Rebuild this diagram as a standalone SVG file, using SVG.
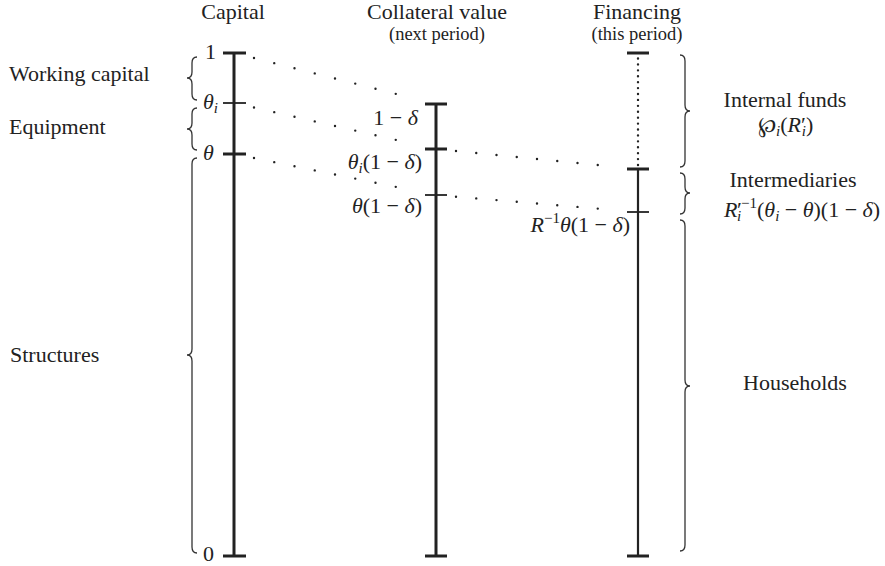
<svg xmlns="http://www.w3.org/2000/svg" width="885" height="566" viewBox="0 0 885 566">
<style>
.t{font-family:'Liberation Serif','Times New Roman',serif;font-size:22px;fill:#222}
.s{font-size:18.5px}
.it{font-style:italic}
.sb{font-size:15px}
.ax{stroke:#222;stroke-width:3;fill:none}
.ax2{stroke:#222;stroke-width:2.2;fill:none}
.tk{stroke:#222;stroke-width:3}
.tn{stroke:#222;stroke-width:1.8}
.dot{stroke:#222;stroke-width:2.4;stroke-linecap:round;stroke-dasharray:0 1;fill:none}
.br{fill:none;stroke:#333;stroke-width:1.3}
</style>
<rect width="885" height="566" fill="#fff"/>

<g id="capital">
<text class="t" x="233" y="19" text-anchor="middle">Capital</text>
<line class="ax" x1="234" y1="53" x2="234" y2="556"/>
<line class="tk" x1="223" y1="53" x2="246" y2="53"/>
<line class="tn" x1="223" y1="103" x2="246" y2="103"/>
<line class="tk" x1="223" y1="154" x2="246" y2="154"/>
<line class="tk" x1="223" y1="556" x2="246" y2="556"/>
<text class="t" x="205" y="59">1</text>
<text class="t" x="203" y="109"><tspan class="it">θ</tspan><tspan class="sb it" dy="4">i</tspan></text>
<text class="t" x="203" y="160"><tspan class="it">θ</tspan></text>
<text class="t" x="203" y="561">0</text>
</g>

<g id="collateral">
<text class="t" x="437" y="19" text-anchor="middle">Collateral value</text>
<text class="t s" x="437" y="40" text-anchor="middle">(next period)</text>
<line class="ax" x1="436" y1="104" x2="436" y2="556"/>
<line class="tk" x1="425" y1="104" x2="447" y2="104"/>
<line class="tk" x1="425" y1="149" x2="447" y2="149"/>
<line class="tn" x1="425" y1="195" x2="447" y2="195"/>
<line class="tk" x1="425" y1="556" x2="447" y2="556"/>
<text class="t" x="418" y="125" text-anchor="end">1 − <tspan class="it">δ</tspan></text>
<text class="t" x="422" y="169" text-anchor="end"><tspan class="it">θ</tspan><tspan class="sb it" dy="4">i</tspan><tspan dy="-4">(1 − </tspan><tspan class="it">δ</tspan>)</text>
<text class="t" x="422" y="213" text-anchor="end"><tspan class="it">θ</tspan>(1 − <tspan class="it">δ</tspan>)</text>
</g>

<g id="financing">
<text class="t" x="637" y="19" text-anchor="middle">Financing</text>
<text class="t s" x="637" y="40" text-anchor="middle">(this period)</text>
<line class="ax2" x1="638" y1="169" x2="638" y2="556"/>
<line class="dot" x1="638" y1="58.5" x2="638" y2="165" pathLength="18"/>
<line class="tk" x1="627" y1="53" x2="649" y2="53"/>
<line class="tk" x1="627" y1="169" x2="649" y2="169"/>
<line class="tn" x1="627" y1="212" x2="649" y2="212"/>
<line class="tk" x1="627" y1="556" x2="649" y2="556"/>
<text class="t" x="630" y="232" text-anchor="end"><tspan class="it">R</tspan><tspan class="sb" dy="-9">−1</tspan><tspan class="it" dy="9">θ</tspan>(1 − <tspan class="it">δ</tspan>)</text>
</g>

<g id="working-capital">
<path class="br" d="M197,57 Q192,57 192,63 L192,72 Q192,78 187,78 Q192,78 192,84 L192,94 Q192,100 197,100"/>
<text class="t" x="9" y="81">Working capital</text>
</g>

<g id="equipment">
<path class="br" d="M197,108 Q192,108 192,114 L192,123 Q192,129 187,129 Q192,129 192,135 L192,144 Q192,150 197,150"/>
<text class="t" x="9" y="134">Equipment</text>
</g>

<g id="structures">
<path class="br" d="M197,158 Q192,158 192,164 L192,349 Q192,355 187,355 Q192,355 192,361 L192,547 Q192,553 197,553"/>
<text class="t" x="10" y="362">Structures</text>
</g>

<g id="internal-funds">
<path class="br" d="M680,55 Q685,55 685,61 L685,105 Q685,111 690,111 Q685,111 685,117 L685,161 Q685,167 680,167"/>
<text class="t" x="785" y="107" text-anchor="middle">Internal funds</text>
<text class="t" x="758" y="132">℘<tspan class="sb it" dy="4">i</tspan><tspan dy="-4">(</tspan><tspan class="it">R</tspan>′<tspan class="sb it" dx="-4" dy="4">i</tspan><tspan dy="-4">)</tspan></text>
</g>

<g id="intermediaries">
<path class="br" d="M680,173 Q685,173 685,179 L685,187 Q685,193 690,193 Q685,193 685,199 L685,208 Q685,214 680,214"/>
<text class="t" x="793" y="187" text-anchor="middle">Intermediaries</text>
<text class="t"><tspan class="it" x="724" y="217">R</tspan><tspan x="737" y="217">′</tspan><tspan class="sb" x="741" y="208">−1</tspan><tspan class="sb it" x="737" y="221">i</tspan><tspan x="757" y="217">(</tspan><tspan class="it">θ</tspan><tspan class="sb it" dy="4">i</tspan><tspan dy="-4"> − </tspan><tspan class="it">θ</tspan>)(1 − <tspan class="it">δ</tspan>)</text>
</g>

<g id="households">
<path class="br" d="M680,220 Q685,220 685,226 L685,380 Q685,386 690,386 Q685,386 685,392 L685,545 Q685,551 680,551"/>
<text class="t" x="795" y="390" text-anchor="middle">Households</text>
</g>

<g id="connectors">
<line class="dot" x1="254" y1="58.05" x2="416" y2="98.95" pathLength="8"/>
<line class="dot" x1="254" y1="107.55" x2="416" y2="144.45" pathLength="8"/>
<line class="dot" x1="254" y1="158.06" x2="416" y2="190.94" pathLength="8"/>
<line class="dot" x1="456" y1="150.98" x2="618" y2="167.02" pathLength="8"/>
<line class="dot" x1="456" y1="196.68" x2="618" y2="210.32" pathLength="8"/>
</g>
</svg>
